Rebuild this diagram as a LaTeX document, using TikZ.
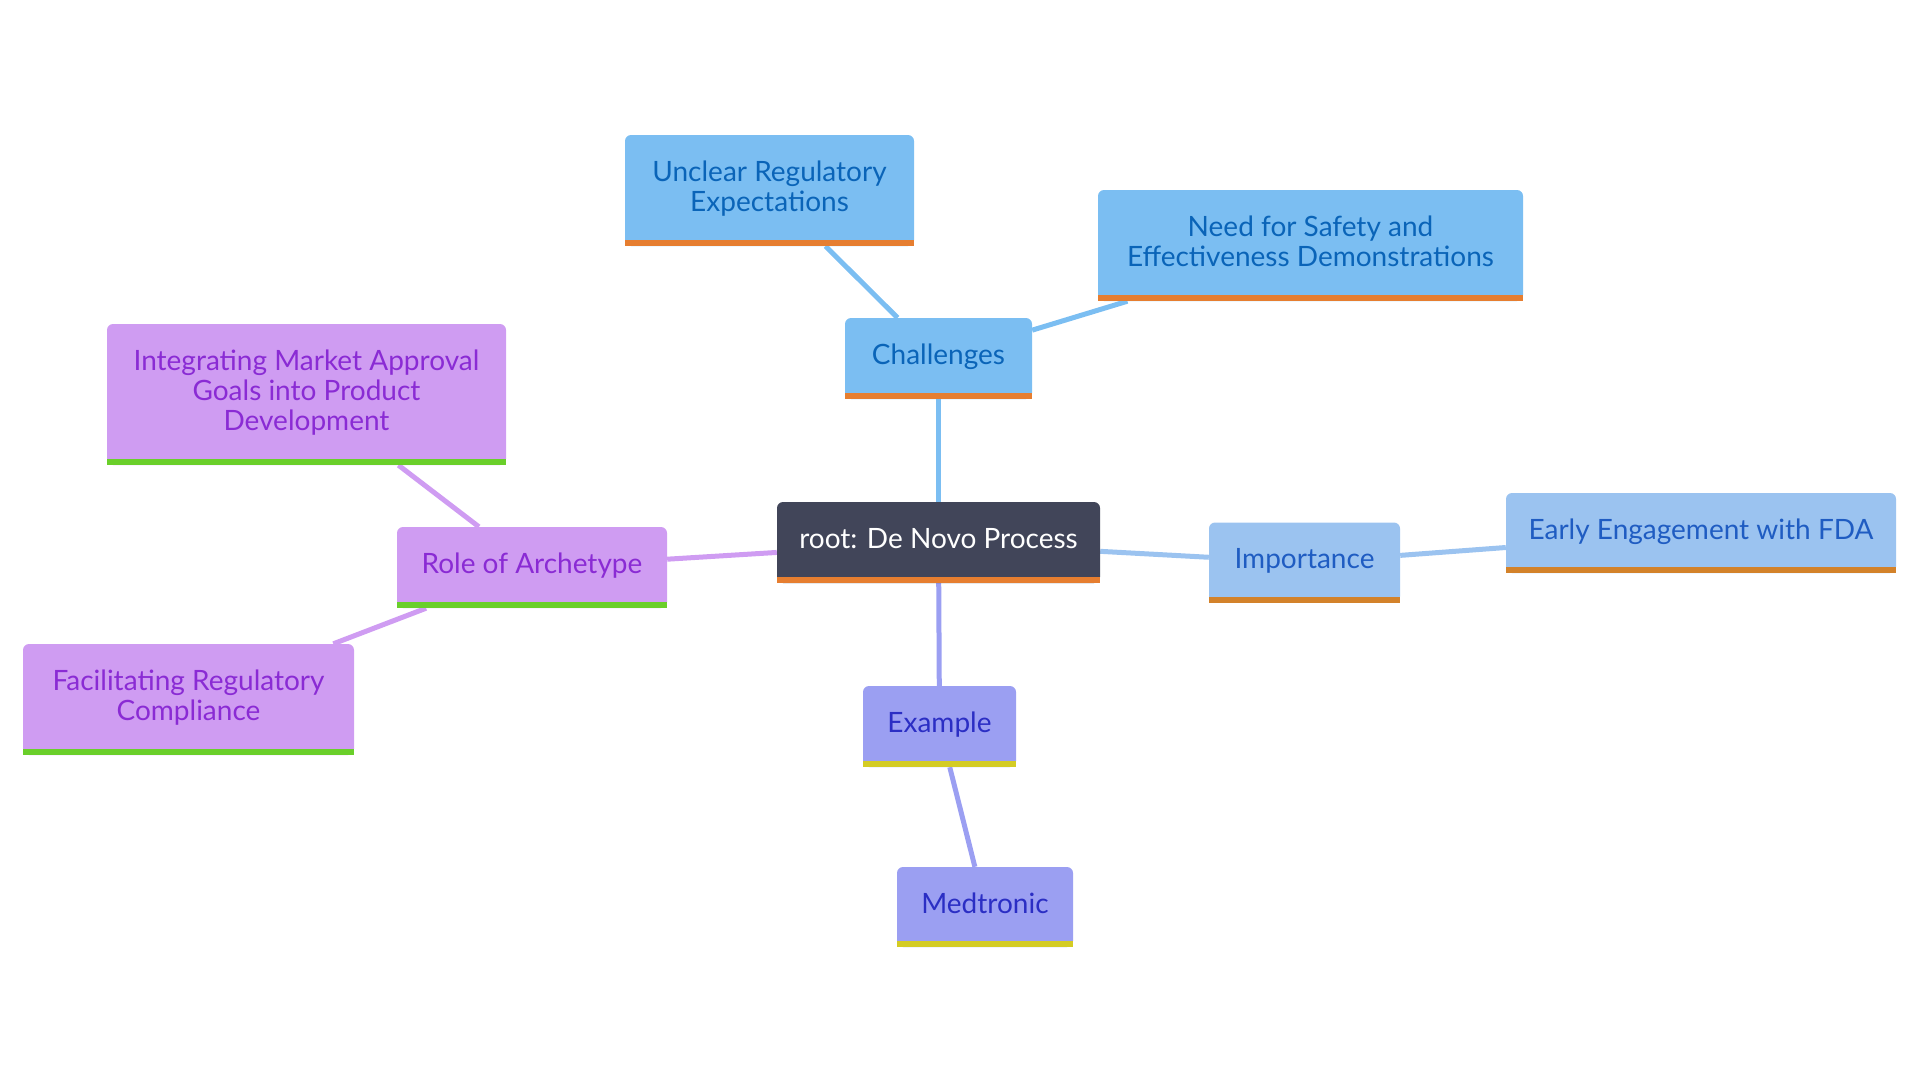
\documentclass[tikz,border=0pt]{standalone}
\usepackage{fontspec}
\setmainfont{Lato}
\usetikzlibrary{backgrounds}
\definecolor{rootfill}{HTML}{414559}
\definecolor{challfill}{HTML}{7BBEF2}
\definecolor{challtext}{HTML}{0A64B8}
\definecolor{impfill}{HTML}{9BC3F0}
\definecolor{imptext}{HTML}{1F5CC2}
\definecolor{rolefill}{HTML}{CF9CF2}
\definecolor{roletext}{HTML}{8A2BD4}
\definecolor{exfill}{HTML}{9B9FF2}
\definecolor{extext}{HTML}{2B2EC4}
\definecolor{orangebar}{HTML}{E67E30}
\definecolor{ochrebar}{HTML}{D3822A}
\definecolor{greenbar}{HTML}{6ACF2A}
\definecolor{yellowbar}{HTML}{D4CC24}
\tikzset{mind node/.style={rectangle, rounded corners=6pt, inner sep=0pt,
    execute at begin node={\rule{0pt}{20pt}},
    execute at end node={\rule[-8pt]{0pt}{8pt}},
    align=center, font=\fontsize{28}{30}\selectfont}}
\tikzset{root node/.style={mind node, fill=rootfill, text=white}}
\tikzset{challenge node/.style={mind node, fill=challfill, text=challtext}}
\tikzset{importance node/.style={mind node, fill=impfill, text=imptext}}
\tikzset{role node/.style={mind node, fill=rolefill, text=roletext}}
\tikzset{example node/.style={mind node, fill=exfill, text=extext}}
\tikzset{branch edge/.style={line width=5pt}}

\begin{document}
\begin{tikzpicture}
      [x=1pt, y=-1pt]
      \useasboundingbox (0,0) rectangle (1920,1080);

      \node [root node, minimum width=323pt, minimum height=81pt]        (root)    at ( 938.5, 542.5) {root: De Novo Process};

      \node [challenge node, minimum width=187pt, minimum height=81pt]   (chall)   at ( 938.5, 358.5) {Challenges};
      \node [challenge node, minimum width=289pt, minimum height=111pt]  (unclear) at ( 769.5, 190.5) {Unclear Regulatory\\Expectations};
      \node [challenge node, minimum width=425pt, minimum height=111pt]  (safety)  at (1310.5, 245.5) {Need for Safety and\\Effectiveness Demonstrations};

      \node [importance node, minimum width=191pt, minimum height=80pt]  (imp)     at (1304.5, 562.5) {Importance};
      \node [importance node, minimum width=390pt, minimum height=80pt]  (early)   at (1701,   533)   {Early Engagement with FDA};

      \node [role node, minimum width=270pt, minimum height=81pt]        (role)    at ( 532,   567.5) {Role of Archetype};
      \node [role node, minimum width=399pt, minimum height=141pt]       (integ)   at ( 306.5, 394.5) {Integrating Market Approval\\Goals into Product\\Development};
      \node [role node, minimum width=331pt, minimum height=111pt]       (facil)   at ( 188.5, 699.5) {Facilitating Regulatory\\Compliance};

      \node [example node, minimum width=153pt, minimum height=81pt]     (example) at ( 939.5, 726.5) {Example};
      \node [example node, minimum width=176pt, minimum height=80pt]     (medt)    at ( 985,   907)   {Medtronic};

      % bottom bars
      \foreach \n/\c in {root/orangebar, chall/orangebar, unclear/orangebar, safety/orangebar,
                         imp/ochrebar, early/ochrebar, role/greenbar, integ/greenbar,
                         facil/greenbar, example/yellowbar, medt/yellowbar}
        \fill [\c] (\n.south west) rectangle ([yshift=6pt]\n.south east);

      \begin{pgfonlayer}{background}
        \draw [branch edge, challfill] (root)  -- (chall);
        \draw [branch edge, challfill] (chall) -- (unclear);
        \draw [branch edge, challfill] (chall) -- (safety);
        \draw [branch edge, impfill]   (root)  -- (imp);
        \draw [branch edge, impfill]   (imp)   -- (early);
        \draw [branch edge, rolefill]  (root)  -- (role);
        \draw [branch edge, rolefill]  (role)  -- (integ);
        \draw [branch edge, rolefill]  (role)  -- (facil);
        \draw [branch edge, exfill]    (root)  -- (example);
        \draw [branch edge, exfill]    (example) -- (medt);
      \end{pgfonlayer}
    \end{tikzpicture}
\end{document}
